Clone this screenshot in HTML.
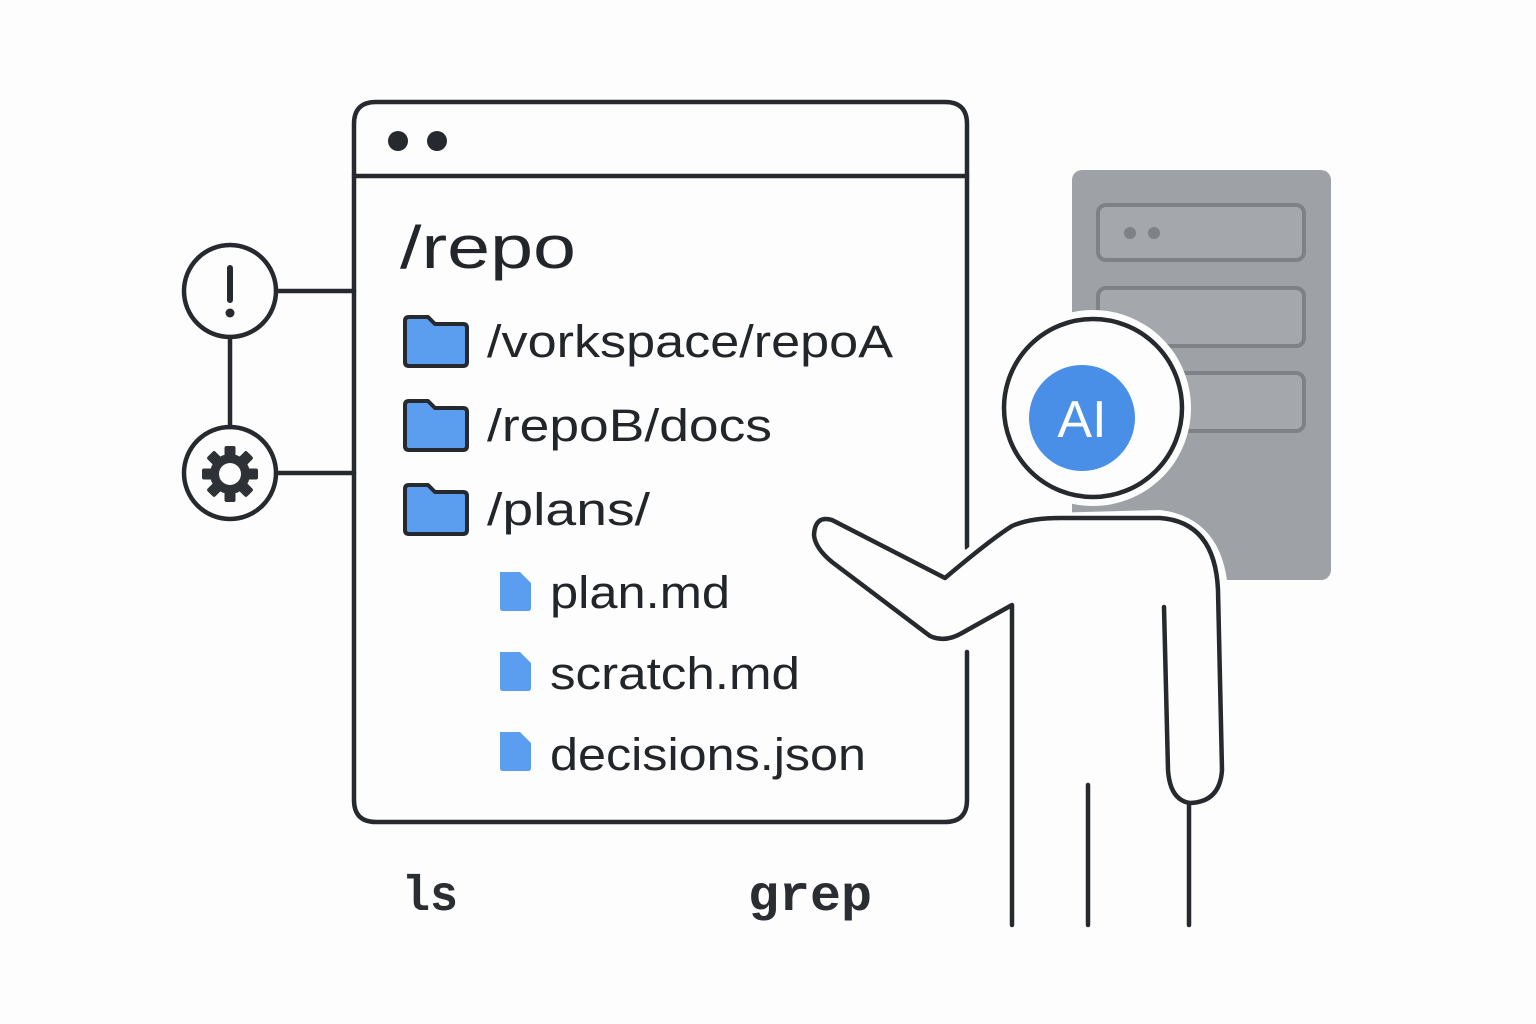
<!DOCTYPE html>
<html><head><meta charset="utf-8"><style>html,body{margin:0;padding:0;background:#fdfdfd}svg{display:block}</style></head><body>
<svg width="1536" height="1024" viewBox="0 0 1536 1024" xmlns="http://www.w3.org/2000/svg">
<rect width="1536" height="1024" fill="#fdfdfd"/>
<rect x="1072" y="170" width="259" height="410" rx="10" fill="#9ea2a6"/>
<g fill="#a4a8ac" stroke="#7e8286" stroke-width="4">
<rect x="1098" y="205" width="206" height="55" rx="8"/>
<rect x="1098" y="288" width="206" height="58" rx="8"/>
<rect x="1098" y="373" width="206" height="58" rx="8"/>
</g>
<circle cx="1130" cy="233" r="6" fill="#7e8286"/><circle cx="1154" cy="233" r="6" fill="#7e8286"/>
<g fill="none" stroke="#26292d" stroke-width="4.5" stroke-linecap="round">
<path d="M967 548 V124 Q967 102 945 102 H376 Q354 102 354 124 V800 Q354 822 376 822 H945 Q967 822 967 800 V652"/>
<line x1="354" y1="176" x2="967" y2="176"/>
<circle cx="230" cy="291" r="46"/>
<circle cx="230" cy="473" r="46"/>
<line x1="276" y1="291" x2="354" y2="291"/>
<line x1="276" y1="473" x2="354" y2="473"/>
<line x1="230" y1="337" x2="230" y2="427"/>
<line x1="230" y1="268" x2="230" y2="300" stroke-width="6"/>
</g>
<circle cx="230" cy="313" r="4.5" fill="#26292d"/>
<circle cx="398" cy="141" r="10" fill="#26292d"/><circle cx="437" cy="141" r="10" fill="#26292d"/>
<g transform="translate(230,474)" fill="#2e3236">
<g id="t"><rect x="-5.5" y="-28" width="11" height="12" rx="2"/></g>
<use href="#t" transform="rotate(45)"/><use href="#t" transform="rotate(90)"/><use href="#t" transform="rotate(135)"/>
<use href="#t" transform="rotate(180)"/><use href="#t" transform="rotate(225)"/><use href="#t" transform="rotate(270)"/><use href="#t" transform="rotate(315)"/>
<circle r="20"/><circle r="11" fill="#fdfdfd"/>
</g>
<g fill="#5b9ef0" stroke="#26292d" stroke-width="4" stroke-linejoin="round">
<path d="M405 321 Q405 317 409 317 H428 L435 324 H463 Q467 324 467 328 V362 Q467 366 463 366 H409 Q405 366 405 362 Z"/>
<path d="M405 405 Q405 401 409 401 H428 L435 408 H463 Q467 408 467 412 V446 Q467 450 463 450 H409 Q405 450 405 446 Z"/>
<path d="M405 489 Q405 485 409 485 H428 L435 492 H463 Q467 492 467 496 V530 Q467 534 463 534 H409 Q405 534 405 530 Z"/>
</g>
<g fill="#5b9ef0">
<path d="M500 572 H520 L531 583 V608 Q531 611 528 611 H503 Q500 611 500 608 Z"/>
<path d="M500 652 H520 L531 663 V688 Q531 691 528 691 H503 Q500 691 500 688 Z"/>
<path d="M500 732 H520 L531 743 V768 Q531 771 528 771 H503 Q500 771 500 768 Z"/>
</g>
<g font-family="Liberation Sans, sans-serif" fill="#222529" lengthAdjust="spacingAndGlyphs">
<text x="400" y="268" font-size="60" textLength="176" lengthAdjust="spacingAndGlyphs">/repo</text>
<text x="487" y="357" font-size="45" textLength="406" lengthAdjust="spacingAndGlyphs">/vorkspace/repoA</text>
<text x="487" y="441" font-size="45" textLength="285" lengthAdjust="spacingAndGlyphs">/repoB/docs</text>
<text x="487" y="525" font-size="45" textLength="163" lengthAdjust="spacingAndGlyphs">/plans/</text>
<text x="550" y="608" font-size="45" textLength="180" lengthAdjust="spacingAndGlyphs">plan.md</text>
<text x="550" y="689" font-size="45" textLength="250" lengthAdjust="spacingAndGlyphs">scratch.md</text>
<text x="550" y="770" font-size="45" textLength="316" lengthAdjust="spacingAndGlyphs">decisions.json</text>
</g>
<g font-family="Liberation Mono, monospace" font-weight="bold" font-size="50" fill="#2a2d31">
<text x="402" y="910" textLength="56" lengthAdjust="spacingAndGlyphs">ls</text><text x="748" y="910" textLength="124" lengthAdjust="spacingAndGlyphs">grep</text>
</g>
<path d="M1010 522 Q990 540 945 578 L832 520 Q815 515 814 535 Q816 550 832 562 L930 638 Q945 645 962 635 L1012 605 V925 H1189 V803 Q1222 800 1220 770 V590 Q1215 525 1160 518 Z" fill="#fdfdfd" stroke="#fdfdfd" stroke-width="16" stroke-linejoin="round"/>
<ellipse cx="1093" cy="408" rx="98" ry="98" fill="#fdfdfd"/>
<g fill="none" stroke="#26292d" stroke-width="4.5" stroke-linecap="round" stroke-linejoin="round">
<path d="M1012 925 V605 L962 633 Q945 643 930 636 L832 562 Q815 548 814 535 Q815 515 832 520 L945 578 Q990 540 1012 526 Q1030 518 1060 518 H1160 Q1215 522 1218 590 L1222 770 Q1220 802 1190 803 Q1170 800 1168 770 L1164 607"/>
<line x1="1189" y1="803" x2="1189" y2="925"/>
<line x1="1088" y1="785" x2="1088" y2="925"/>
<ellipse cx="1093" cy="408" rx="89" ry="89"/>
</g>
<circle cx="1082" cy="418" r="53" fill="#4a8fe7"/>
<text x="1082" y="437" text-anchor="middle" font-family="Liberation Sans, sans-serif" font-size="52" fill="#fff">AI</text>
</svg>
</body></html>
